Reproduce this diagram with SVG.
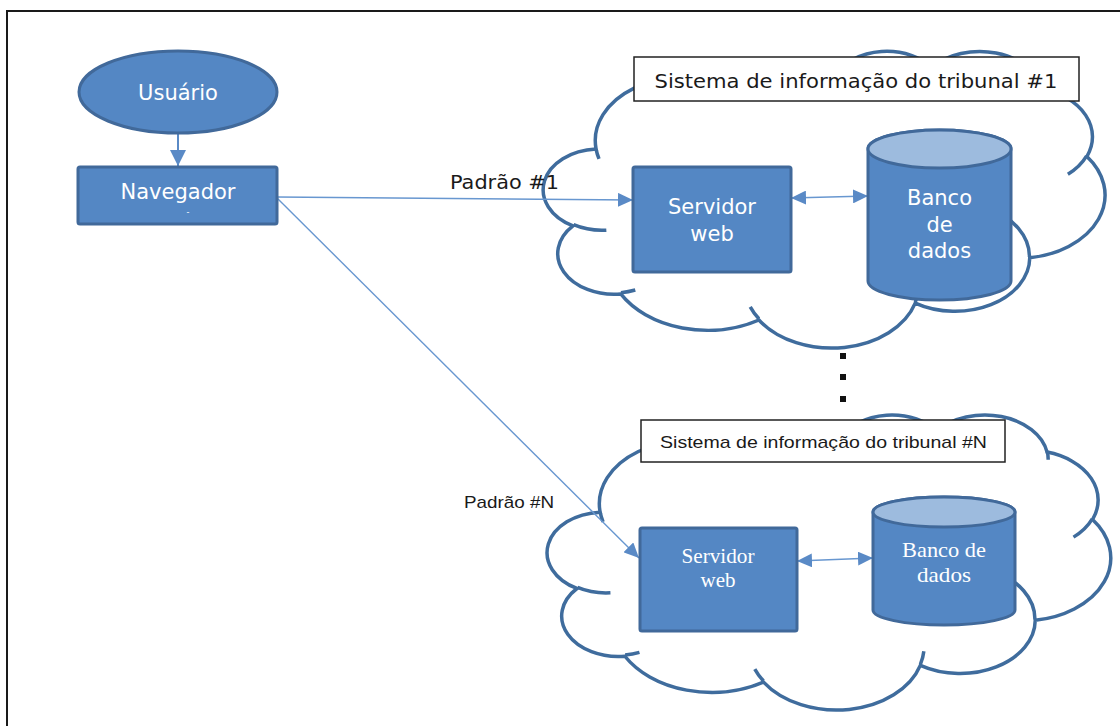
<svg xmlns="http://www.w3.org/2000/svg" width="1120" height="726" viewBox="0 0 1120 726">
  <defs>
    <style>
      .node { fill: #5487c4; stroke: #41699a; stroke-width: 3; }
      .cap { fill: #9dbbde; stroke: #41699a; stroke-width: 3; }
      .cloud { fill: #ffffff; stroke: #3f6c9d; stroke-width: 3.5; stroke-linecap: round; }
      .hook { fill: none; stroke: #3f6c9d; stroke-width: 3.5; }
      .label-box { fill: #ffffff; stroke: #222222; stroke-width: 1.5; }
      .wt { fill: #ffffff; font-family: "DejaVu Sans", Verdana, sans-serif; font-size: 21px; text-anchor: middle; }
      .ws { fill: #ffffff; font-family: "Liberation Serif", "Times New Roman", serif; font-size: 21px; text-anchor: middle; }
      .bt { fill: #1a1a1a; font-family: "DejaVu Sans", Verdana, sans-serif; font-size: 20px; }
      .bs { fill: #1a1a1a; font-family: "Liberation Sans", Arial, sans-serif; font-size: 17px; }
      .link { fill: none; stroke: #6897d0; stroke-width: 1.4; }
      .link-bold { fill: none; stroke: #5a8ac6; stroke-width: 2; }
      .tiny { font-size: 8px; }
    </style>
    <marker id="arrow" markerWidth="16" markerHeight="14" refX="15" refY="7" orient="auto-start-reverse" markerUnits="userSpaceOnUse">
      <path d="M0,0 L15,7 L0,14 Z" fill="#5a8ac6"/>
    </marker>
    <marker id="arrow-big" markerWidth="17" markerHeight="16" refX="16" refY="8" orient="auto" markerUnits="userSpaceOnUse">
      <path d="M0,0 L16,8 L0,16 Z" fill="#5a8ac6"/>
    </marker>
    <!-- cloud outline on a 43200 x 43200 grid -->
    <path id="cloud-shape" vector-effect="non-scaling-stroke" d="M3900,14370 A6753,9190 0 0 1 14005,5202 A5333,7267 0 0 1 22456,3432 A4365,5945 0 0 1 29833,2478 A4857,6595 0 0 1 38317,5574 A5333,7273 0 0 1 41818,15458 A6775,9220 0 0 1 37405,30203 A5785,7867 0 0 1 28556,36813 A6752,9215 0 0 1 16482,39266 A7720,10543 0 0 1 5806,35472 A4360,5918 0 0 1 2114,25551 A4345,5945 0 0 1 3900,14370 Z"/>
    <path id="cloud-hooks" vector-effect="non-scaling-stroke" d="M4693,26177 A4345,5945 0 0 1 2160,25380 M6928,34899 A4360,5918 0 0 1 5820,35280 M16478,39090 A6752,9215 0 0 1 15809,37348 M28827,34751 A6752,9215 0 0 1 28561,36660 M34129,22954 A5785,7867 0 0 1 37380,30090 M41798,15354 A5333,7273 0 0 1 40350,18030 M38324,5426 A4857,6595 0 0 1 38400,6690 M29078,3952 A4857,6595 0 0 1 29820,2339 M22141,4720 A4365,5945 0 0 1 22500,3331 M14000,5192 A6753,9190 0 0 1 15300,6540 M4127,15789 A6753,9190 0 0 1 3900,14370"/>
  </defs>

  <rect width="1120" height="726" fill="#ffffff"/>
  <!-- outer frame -->
  <path d="M7,726 V11 H1120" fill="none" stroke="#1a1a1a" stroke-width="2"/>

  <!-- court system #1 -->
  <g id="cloud-1" transform="translate(545.6,50.4) scale(0.012944,0.006866)">
    <use href="#cloud-shape" class="cloud"/>
    <use href="#cloud-hooks" class="hook"/>
  </g>
  <g id="label-1">
    <rect class="label-box" x="634" y="57" width="445" height="44"/>
    <text class="bt" x="856" y="88" text-anchor="middle" textLength="403" lengthAdjust="spacingAndGlyphs">Sistema de informação do tribunal #1</text>
  </g>

  <!-- court system #N -->
  <g id="cloud-n" transform="translate(549.5,414) scale(0.012986,0.006829)">
    <use href="#cloud-shape" class="cloud"/>
    <use href="#cloud-hooks" class="hook"/>
  </g>
  <g id="label-n">
    <rect class="label-box" x="641" y="420" width="364" height="42"/>
    <text class="bs" x="823.5" y="448" text-anchor="middle" textLength="327" lengthAdjust="spacingAndGlyphs">Sistema de informação do tribunal #N</text>
  </g>

  <!-- continuation dots -->
  <g id="ellipsis" fill="#111111">
    <rect x="840" y="353" width="6" height="6"/>
    <rect x="840" y="374" width="6" height="6"/>
    <rect x="840" y="396" width="6" height="6"/>
  </g>

  <g id="connectors">
    <line class="link-bold" x1="178" y1="134" x2="178" y2="166" marker-end="url(#arrow-big)"/>
    <line class="link" x1="277" y1="197" x2="633" y2="200" marker-end="url(#arrow)"/>
    <line class="link" x1="277" y1="198" x2="639" y2="558" marker-end="url(#arrow)"/>
    <line class="link" x1="791" y1="198" x2="868" y2="196" marker-start="url(#arrow)" marker-end="url(#arrow)"/>
    <line class="link" x1="797" y1="561" x2="873" y2="558" marker-start="url(#arrow)" marker-end="url(#arrow)"/>
    <text class="bt" x="450" y="189" textLength="109" lengthAdjust="spacingAndGlyphs">Padrão #1</text>
    <text class="bs" x="464" y="508" textLength="90" lengthAdjust="spacingAndGlyphs">Padrão #N</text>
  </g>

  <g id="usuario">
    <ellipse class="node" cx="178" cy="92" rx="99" ry="41"/>
    <text class="wt" x="178" y="100">Usuário</text>
  </g>

  <g id="navegador">
    <rect class="node" x="78" y="167" width="199" height="57" rx="2"/>
    <text class="wt" x="178" y="199">Navegador</text>
    <text class="wt tiny" x="188" y="215">-</text>
  </g>

  <g id="servidor-1">
    <rect class="node" x="633" y="167" width="158" height="105" rx="2"/>
    <text class="wt" x="712" y="214">Servidor</text>
    <text class="wt" x="712" y="241">web</text>
  </g>

  <g id="banco-1">
    <path class="node" d="M868,149 V281 A71.5,19 0 0 0 1011,281 V149 A71.5,19 0 0 0 868,149 Z"/>
    <ellipse class="cap" cx="939.5" cy="149" rx="71.5" ry="19"/>
    <text class="wt" x="939.5" y="205">Banco</text>
    <text class="wt" x="939.5" y="232">de</text>
    <text class="wt" x="939.5" y="258">dados</text>
  </g>

  <g id="servidor-n">
    <rect class="node" x="640" y="528" width="157" height="103" rx="2"/>
    <text class="ws" x="718" y="563" textLength="73" lengthAdjust="spacingAndGlyphs">Servidor</text>
    <text class="ws" x="718" y="587">web</text>
  </g>

  <g id="banco-n">
    <path class="node" d="M873,512 V610 A71,15 0 0 0 1015,610 V512 A71,15 0 0 0 873,512 Z"/>
    <ellipse class="cap" cx="944" cy="512" rx="71" ry="15"/>
    <text class="ws" x="944" y="557" textLength="84" lengthAdjust="spacingAndGlyphs">Banco de</text>
    <text class="ws" x="944" y="582" textLength="54" lengthAdjust="spacingAndGlyphs">dados</text>
  </g>
</svg>
